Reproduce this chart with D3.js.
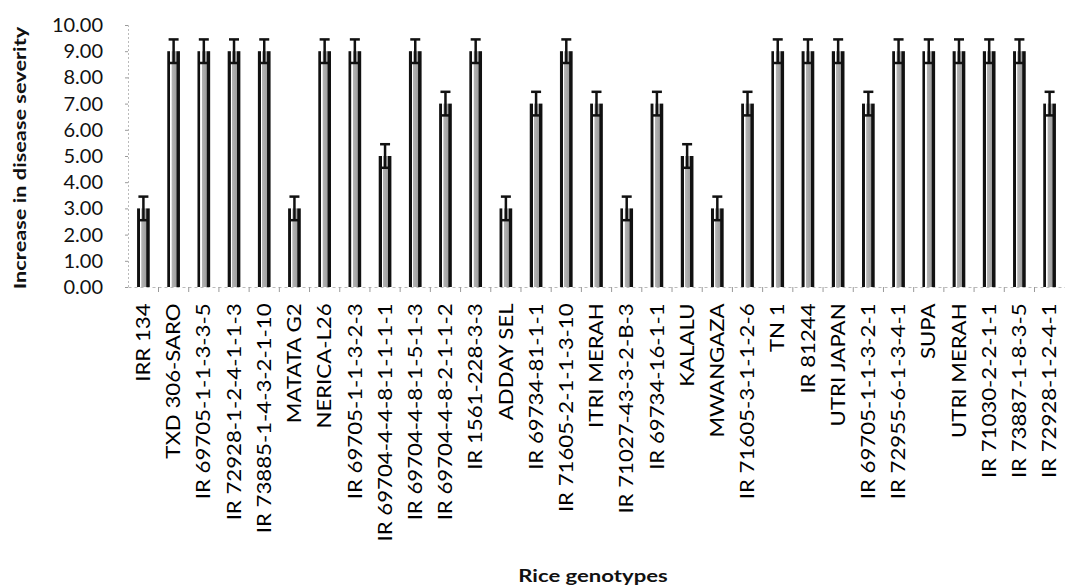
<!DOCTYPE html>
<html><head><meta charset="utf-8">
<script src="https://cdn.jsdelivr.net/npm/d3@7"></script>
<style>body{margin:0;background:#fff}svg{display:block}</style>
</head><body><svg id="c" width="1065" height="587"></svg>
<script>
const categories = ["IRR 134","TXD 306-SARO","IR 69705-1-1-3-3-5","IR 72928-1-2-4-1-1-3","IR 73885-1-4-3-2-1-10","MATATA G2","NERICA-L26","IR 69705-1-1-3-2-3","IR 69704-4-4-8-1-1-1-1","IR 69704-4-8-1-5-1-3","IR 69704-4-8-2-1-1-2","IR 1561-228-3-3","ADDAY SEL","IR 69734-81-1-1","IR 71605-2-1-1-3-10","ITRI MERAH","IR 71027-43-3-2-B-3","IR 69734-16-1-1","KALALU","MWANGAZA","IR 71605-3-1-1-2-6","TN 1","IR 81244","UTRI JAPAN","IR 69705-1-1-3-2-1","IR 72955-6-1-3-4-1","SUPA","UTRI MERAH","IR 71030-2-2-1-1","IR 73887-1-8-3-5","IR 72928-1-2-4-1"];
const values = [3,9,9,9,9,3,9,9,5,9,7,9,3,7,9,7,3,7,5,3,7,9,9,9,7,9,9,9,9,9,7];
const errors = [0.45,0.45,0.45,0.45,0.45,0.45,0.45,0.45,0.45,0.45,0.45,0.45,0.45,0.45,0.45,0.45,0.45,0.45,0.45,0.45,0.45,0.45,0.45,0.45,0.45,0.45,0.45,0.45,0.45,0.45,0.45];
const yTicks = [0,1,2,3,4,5,6,7,8,9,10];

const svg = d3.select("#c");
const mLeft = 128, mRight = 1065, mTop = 25, mBottom = 287;
const font = "Lato, 'Open Sans', sans-serif";
const x = d3.scaleBand().domain(categories).range([mLeft, mRight]).paddingInner(0.58).paddingOuter(0.3);
const y = d3.scaleLinear().domain([0, 10]).range([mBottom, mTop]);

const defs = svg.append("defs");
const g = defs.append("linearGradient").attr("id","bar").attr("x1","0").attr("x2","1").attr("y1","0").attr("y2","0");
[["0%","#111"],["22%","#111"],["24%","#fff"],["32%","#fff"],["36%","#b4b4b4"],["70%","#a0a0a0"],["76%","#111"],["100%","#111"]]
  .forEach(([o,c]) => g.append("stop").attr("offset",o).attr("stop-color",c));

// y axis
const ya = svg.append("g").attr("transform",`translate(${mLeft},0)`)
  .call(d3.axisLeft(y).tickValues(yTicks).tickFormat(d3.format(".2f")).tickSize(3).tickPadding(22));
ya.select(".domain").attr("stroke","#bbb").attr("stroke-dasharray","2,2");
ya.selectAll(".tick line").attr("stroke","#999");
ya.selectAll("text").attr("font-family",font).attr("font-size",20).attr("fill","#111");

// x axis
const xa = svg.append("g").attr("transform",`translate(0,${mBottom})`)
  .call(d3.axisBottom(x).tickSize(0).tickPadding(10));
xa.select(".domain").attr("stroke","#bbb").attr("stroke-dasharray","3,3");
xa.selectAll("text").attr("font-family",font).attr("font-size",19).attr("fill","#000")
  .attr("transform","rotate(-90) scale(1.17,1)").attr("text-anchor","end").attr("dx","-14").attr("dy","0.35em").attr("y",0).attr("x",0);
// between-category ticks
svg.append("g").selectAll("line").data(categories.slice(1)).join("line")
  .attr("x1", d => x(d) - x.step()*x.paddingInner()/2).attr("x2", d => x(d) - x.step()*x.paddingInner()/2)
  .attr("y1", mBottom).attr("y2", mBottom+5).attr("stroke","#999");

// bars
svg.append("g").selectAll("rect").data(categories).join("rect")
  .attr("x", d => x(d)).attr("width", x.bandwidth())
  .attr("y", (d,i) => y(values[i])).attr("height", (d,i) => y(0) - y(values[i]))
  .attr("fill","url(#bar)");

// error bars
const eb = svg.append("g").attr("stroke","#111").attr("stroke-width",2.5);
categories.forEach((d,i) => {
  const cx = x(d) + x.bandwidth()/2;
  const hi = y(values[i] + errors[i]), lo = y(values[i] - errors[i]);
  eb.append("line").attr("x1",cx).attr("x2",cx).attr("y1",hi).attr("y2",lo);
  eb.append("line").attr("x1",cx-5).attr("x2",cx+5).attr("y1",hi).attr("y2",hi);
  eb.append("line").attr("x1",cx-5).attr("x2",cx+5).attr("y1",lo).attr("y2",lo);
});

// titles
svg.append("text").attr("transform","translate(593,582) scale(1.3,1)").attr("text-anchor","middle")
  .attr("font-family",font).attr("font-weight","bold").attr("font-size",17).attr("fill","#111")
  .text("Rice genotypes");
svg.append("text").attr("transform","translate(26,158) rotate(-90) scale(1.28,1)").attr("text-anchor","middle")
  .attr("font-family",font).attr("font-weight","bold").attr("font-size",17).attr("fill","#111")
  .text("Increase in disease severity");
</script></body></html>
